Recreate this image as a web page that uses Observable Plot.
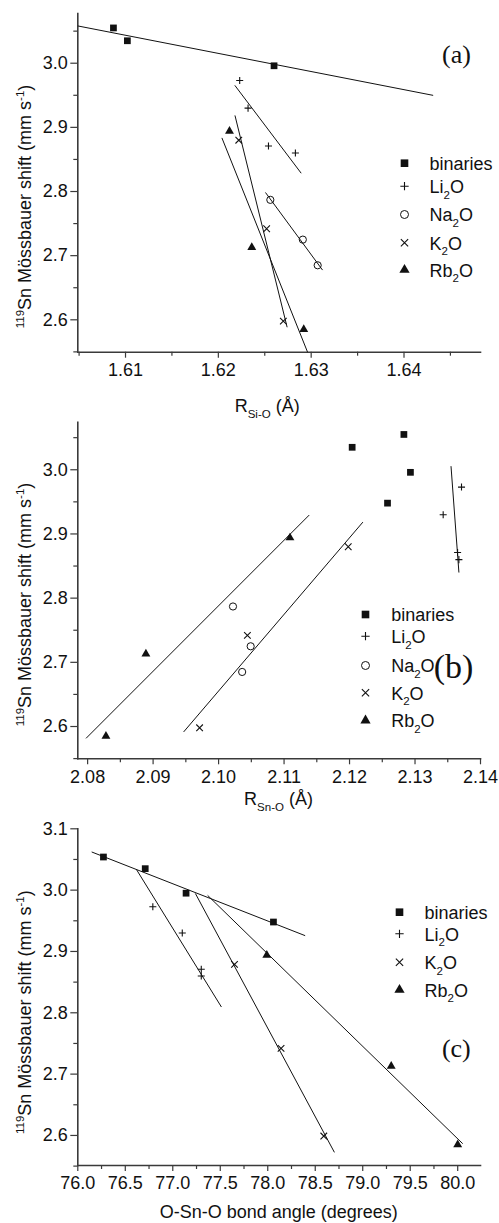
<!DOCTYPE html>
<html>
<head>
<meta charset="utf-8">
<script src="https://cdn.jsdelivr.net/npm/d3@7"></script>
<script src="https://cdn.jsdelivr.net/npm/@observablehq/plot@0.6"></script>
<style>
  html, body { margin: 0; padding: 0; background: #fff; }
  #wrap { position: relative; width: 499px; height: 1223px; overflow: hidden; background: #fff; }
  #wrap svg { position: absolute; left: 0; overflow: visible; }
</style>
</head>
<body>
<div id="wrap"></div>
<script>
// ---------- shared values ----------
const seriesNames = ["binaries", "Li_{2}O", "Na_{2}O", "K_{2}O", "Rb_{2}O"];
const seriesSymbols = ["square", "plus", "circle", "times", "triangle"];
const yMajor = [2.6, 2.7, 2.8, 2.9, 3.0];
const yMinor = [2.55, 2.65, 2.75, 2.85, 2.95, 3.05];
const yMajorC = [2.6, 2.7, 2.8, 2.9, 3.0, 3.1];
const yLabel = "^{119}Sn Mössbauer shift (mm s^{-1})";

// ---------- panel (a): R_Si-O ----------
const aXTicks = [1.61, 1.62, 1.63, 1.64];
const aXMinor = [1.605, 1.615, 1.625, 1.635, 1.645];
const aBinX = [1.6087, 1.6102, 1.6260];
const aBinY = [3.055, 3.035, 2.996];
const aLiX = [1.6223, 1.6232, 1.6254, 1.6283];
const aLiY = [2.973, 2.930, 2.871, 2.860];
const aNaX = [1.6256, 1.6291, 1.6307];
const aNaY = [2.787, 2.725, 2.685];
const aKX = [1.6222, 1.6252, 1.6270];
const aKY = [2.880, 2.742, 2.598];
const aRbX = [1.6212, 1.6236, 1.6292];
const aRbY = [2.894, 2.713, 2.585];
const aFitBinX = [1.6049, 1.6431], aFitBinY = [3.058, 2.950];
const aFitLiX = [1.6218, 1.6289], aFitLiY = [2.965, 2.829];
const aFitNaX = [1.6251, 1.6312], aFitNaY = [2.798, 2.678];
const aFitKX = [1.6218, 1.6274], aFitKY = [2.918, 2.589];
const aFitRbX = [1.6204, 1.6296], aFitRbY = [2.883, 2.550];

// ---------- panel (b): R_Sn-O ----------
const bXTicks = [2.08, 2.09, 2.10, 2.11, 2.12, 2.13, 2.14];
const bXMinor = [2.085, 2.095, 2.105, 2.115, 2.125, 2.135];
const bBinX = [2.1204, 2.1283, 2.1293, 2.1258];
const bBinY = [3.035, 3.055, 2.996, 2.948];
const bLiX = [2.1371, 2.1343, 2.1365, 2.1367];
const bLiY = [2.973, 2.930, 2.871, 2.860];
const bNaX = [2.1022, 2.1049, 2.1036];
const bNaY = [2.787, 2.725, 2.685];
const bKX = [2.1198, 2.1044, 2.0971];
const bKY = [2.880, 2.742, 2.598];
const bRbX = [2.1109, 2.0889, 2.0828];
const bRbY = [2.894, 2.713, 2.585];
const bFitLiX = [2.1355, 2.1367], bFitLiY = [3.005, 2.8405];
const bFitKX = [2.0947, 2.1220], bFitKY = [2.592, 2.918];
const bFitRbX = [2.0798, 2.1138], bFitRbY = [2.582, 2.929];

// ---------- panel (c): O-Sn-O angle ----------
const cXTicks = [76.0, 76.5, 77.0, 77.5, 78.0, 78.5, 79.0, 79.5, 80.0];
const cXMinor = [76.25, 76.75, 77.25, 77.75, 78.25, 78.75, 79.25, 79.75];
const cBinX = [76.27, 76.71, 77.14, 78.06];
const cBinY = [3.054, 3.035, 2.995, 2.948];
const cLiX = [76.79, 77.10, 77.30, 77.30];
const cLiY = [2.973, 2.930, 2.871, 2.860];
const cKX = [77.65, 78.14, 78.59];
const cKY = [2.879, 2.742, 2.599];
const cRbX = [77.99, 79.30, 80.00];
const cRbY = [2.894, 2.713, 2.585];
const cFitBinX = [76.15, 78.39], cFitBinY = [3.062, 2.926];
const cFitLiX = [76.62, 77.51], cFitLiY = [3.033, 2.810];
const cFitKX = [77.24, 78.70], cFitKY = [2.994, 2.573];
const cFitRbX = [77.37, 80.05], cFitRbY = [2.991, 2.587];

// ---------- helpers ----------
const pts = (xs, ys) => xs.map((x, i) => ({x, y: ys[i]}));
const INK = "#111";
const AXIS = "#3a3a3a";
const symStyle = {
  square:   {fill: INK, stroke: "none", r: 3.8},
  plus:     {fill: "none", stroke: INK, strokeWidth: 1.1, r: 2.4},
  circle:   {fill: "none", stroke: INK, strokeWidth: 1, r: 3.6},
  times:    {fill: "none", stroke: INK, strokeWidth: 1.1, r: 3.1},
  triangle: {fill: INK, stroke: "none", r: 3.3}
};
const legStyle = {
  square:   {fill: INK, stroke: "none", r: 4.3},
  plus:     {fill: "none", stroke: INK, strokeWidth: 1.1, r: 2.8},
  circle:   {fill: "none", stroke: INK, strokeWidth: 1, r: 4.0},
  times:    {fill: "none", stroke: INK, strokeWidth: 1.1, r: 3.4},
  triangle: {fill: INK, stroke: "none", r: 3.8}
};

function richify(svg) {
  svg.querySelectorAll("text").forEach(el => {
    const s = el.textContent;
    if (!/[_^]\{/.test(s)) return;
    const f = parseFloat(getComputedStyle(el).fontSize) || 17;
    while (el.firstChild) el.removeChild(el.firstChild);
    const re = /([_^])\{([^}]*)\}|([^_^]+)/g;
    let m, shift = 0;
    while ((m = re.exec(s))) {
      const t = document.createElementNS("http://www.w3.org/2000/svg", "tspan");
      if (m[1]) {
        const target = m[1] === "_" ? 0.32 * f : -0.42 * f;
        t.setAttribute("dy", (target - shift).toFixed(2));
        t.setAttribute("font-size", (0.64 * f).toFixed(2));
        t.textContent = m[2];
        shift = target;
      } else {
        if (shift !== 0) t.setAttribute("dy", (-shift).toFixed(2));
        t.textContent = m[3];
        shift = 0;
      }
      el.appendChild(t);
    }
  });
}

function panel(cfg) {
  const {top, height, mt, mb, xDomain, yDomain, xTicks, xMinor, xFmt, yTicks,
         series, fits, legend, xLabel, letter} = cfg;
  const ml = 77.3, mr = 19;
  const marks = [];
  // axes
  marks.push(Plot.axisY(yTicks, {anchor: "left", tickSize: 7, tickPadding: 3, stroke: AXIS, strokeWidth: 1.2, fill: INK, tickFormat: d3.format(".1f"), label: null, fontSize: 18}));
  marks.push(Plot.axisY(yMinor, {anchor: "left", tickSize: 4, stroke: AXIS, strokeWidth: 1.2, fill: "none", label: null}));
  marks.push(Plot.axisX(xTicks, {anchor: "bottom", tickSize: 6, tickPadding: 5, stroke: AXIS, strokeWidth: 1.2, fill: INK, tickFormat: xFmt, label: null, fontSize: 18}));
  marks.push(Plot.axisX(xMinor, {anchor: "bottom", tickSize: 4, stroke: AXIS, strokeWidth: 1.2, fill: "none", label: null}));
  marks.push(Plot.frame({anchor: "left", stroke: AXIS, strokeWidth: 1.6}));
  marks.push(Plot.frame({anchor: "bottom", stroke: AXIS, strokeWidth: 1.6}));
  // fit lines
  fits.forEach(([xs, ys]) => marks.push(Plot.line(pts(xs, ys), {x: "x", y: "y", stroke: INK, strokeWidth: 1})));
  // points
  series.forEach(([sym, xs, ys]) => marks.push(Plot.dot(pts(xs, ys), {x: "x", y: "y", symbol: sym, ...symStyle[sym]})));
  // legend (inside plot, library marks anchored to the frame)
  legend.rows.forEach(([name, sym, ry]) => {
    marks.push(Plot.dot([name], {frameAnchor: "top-left", dx: legend.symX - ml, dy: ry - mt, symbol: sym, ...legStyle[sym]}));
    marks.push(Plot.text([name], {frameAnchor: "top-left", dx: legend.textX - ml, dy: ry + 1 - mt, text: d => d, textAnchor: "start", lineAnchor: "middle", fontSize: 18, fill: INK}));
  });
  // axis titles
  marks.push(Plot.text([yLabel], {frameAnchor: "top-left", dx: 25 - ml, dy: cfg.yLabelY - mt, text: d => d, rotate: -90, textAnchor: "middle", lineAnchor: "middle", fontSize: cfg.yLabelSize || 18, fill: INK}));
  marks.push(Plot.text([xLabel[0]], {frameAnchor: "top-left", dx: xLabel[1] - ml, dy: xLabel[2] - mt, text: d => d, textAnchor: "middle", lineAnchor: "middle", fontSize: 18, fill: INK}));
  // panel letter
  marks.push(Plot.text([letter[0]], {frameAnchor: "top-left", dx: letter[1] - ml, dy: letter[2] - mt, text: d => d, textAnchor: "middle", lineAnchor: "middle", fontSize: letter[3], fontFamily: "'Liberation Serif', 'Times New Roman', serif", fill: INK}));

  const svg = Plot.plot({
    width: 499, height,
    marginLeft: ml, marginRight: mr, marginTop: mt, marginBottom: mb,
    x: {domain: xDomain},
    y: {domain: yDomain},
    style: {fontFamily: "'Liberation Sans', Arial, Helvetica, sans-serif", fontSize: "18px", color: INK, background: "transparent", overflow: "visible"},
    marks
  });
  svg.style.top = top + "px";
  document.getElementById("wrap").appendChild(svg);
  richify(svg);
}

panel({
  top: 0, height: 416, mt: 13, mb: 64.3,
  xDomain: [1.60486, 1.64824], yDomain: [2.5495, 3.0775],
  xTicks: aXTicks, xMinor: aXMinor, xFmt: d3.format(".2f"), yTicks: yMajor,
  series: [["square", aBinX, aBinY], ["plus", aLiX, aLiY], ["circle", aNaX, aNaY], ["times", aKX, aKY], ["triangle", aRbX, aRbY]],
  fits: [[aFitBinX, aFitBinY], [aFitLiX, aFitLiY], [aFitNaX, aFitNaY], [aFitKX, aFitKY], [aFitRbX, aFitRbY]],
  legend: {symX: 404, textX: 429, rows: [[seriesNames[0], "square", 162.7], [seriesNames[1], "plus", 185.7], [seriesNames[2], "circle", 214], [seriesNames[3], "times", 242.3], [seriesNames[4], "triangle", 269.3]]},
  yLabelY: 206,
  xLabel: ["R_{Si-O} (Å)", 266.7, 405.7],
  letter: ["(a)", 456, 54, 26]
});

panel({
  top: 416, height: 406, mt: 5.7, mb: 63.7,
  xDomain: [2.0785, 2.14], yDomain: [2.5497, 3.0741],
  xTicks: bXTicks, xMinor: bXMinor, xFmt: d3.format(".2f"), yTicks: yMajor,
  series: [["square", bBinX, bBinY], ["plus", bLiX, bLiY], ["circle", bNaX, bNaY], ["times", bKX, bKY], ["triangle", bRbX, bRbY]],
  fits: [[bFitLiX, bFitLiY], [bFitKX, bFitKY], [bFitRbX, bFitRbY]],
  legend: {symX: 365, textX: 390.7, rows: [[seriesNames[0], "square", 198], [seriesNames[1], "plus", 219.7], [seriesNames[2], "circle", 249], [seriesNames[3], "times", 276.3], [seriesNames[4], "triangle", 304]]},
  yLabelY: 188,
  xLabel: ["R_{Sn-O} (Å)", 278, 383.2],
  letter: ["(b)", 453, 250.7, 34]
});

panel({
  top: 822, height: 401, mt: 6.3, mb: 58,
  xDomain: [76.0, 80.24], yDomain: [2.551, 3.1],
  xTicks: cXTicks, xMinor: cXMinor, xFmt: d3.format(".1f"), yTicks: yMajorC,
  series: [["square", cBinX, cBinY], ["plus", cLiX, cLiY], ["times", cKX, cKY], ["triangle", cRbX, cRbY]],
  fits: [[cFitBinX, cFitBinY], [cFitLiX, cFitLiY], [cFitKX, cFitKY], [cFitRbX, cFitRbY]],
  legend: {symX: 399, textX: 424, rows: [[seriesNames[0], "square", 89.7], [seriesNames[1], "plus", 111.3], [seriesNames[3], "times", 139.7], [seriesNames[4], "triangle", 167.3]]},
  yLabelY: 189.7,
  xLabel: ["O-Sn-O bond angle (degrees)", 278.3, 390.2],
  letter: ["(c)", 455.8, 226, 26]
});
</script>
</body>
</html>
